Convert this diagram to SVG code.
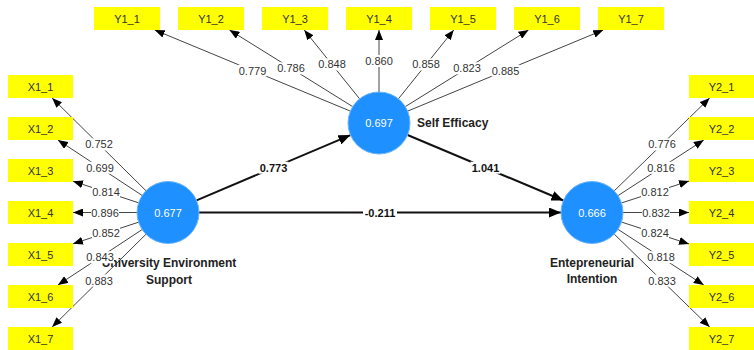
<svg xmlns="http://www.w3.org/2000/svg" width="754" height="350" viewBox="0 0 754 350">
<style>
.box{fill:#ffff00}
.bt{font-family:"Liberation Sans",Arial,sans-serif;font-size:11px;fill:#333;text-anchor:middle;dominant-baseline:central}
.cv{fill:#1e90ff;stroke:#6db5ff;stroke-width:1}
.ct{font-family:"Liberation Sans",Arial,sans-serif;font-size:11px;fill:#fff;text-anchor:middle;dominant-baseline:central}
.nl{font-family:"Liberation Sans",Arial,sans-serif;font-size:12px;font-weight:bold;fill:#222}
.ld{stroke:#444;stroke-width:1;fill:none;marker-end:url(#a)}
.st{stroke:#111;stroke-width:2;fill:none;marker-end:url(#b)}
.lb{fill:#fff}
.lt{font-family:"Liberation Sans",Arial,sans-serif;font-size:11px;fill:#333;text-anchor:middle;dominant-baseline:central}
.pt{font-family:"Liberation Sans",Arial,sans-serif;font-size:11px;font-weight:bold;fill:#111;text-anchor:middle;dominant-baseline:central}
</style>
<defs>
<marker id="a" markerUnits="userSpaceOnUse" markerWidth="10" markerHeight="8" refX="10" refY="4" orient="auto"><path d="M0,0 L10,4 L0,8 z" fill="#000"/></marker>
<marker id="b" markerUnits="userSpaceOnUse" markerWidth="12" markerHeight="10" refX="12" refY="5" orient="auto"><path d="M0,0 L12,5 L0,10 z" fill="#000"/></marker>
</defs>
<rect width="754" height="350" fill="#fff"/>

<g id="connectors">
<line class="ld" x1="145.95" y1="190.71" x2="52.14" y2="98"/>
<line class="ld" x1="142.11" y1="195.44" x2="57.95" y2="140"/>
<line class="ld" x1="138.56" y1="202.8" x2="73" y2="181.2"/>
<line class="ld" x1="137" y1="212.5" x2="73" y2="212.5"/>
<line class="ld" x1="138.56" y1="222.2" x2="73" y2="243.8"/>
<line class="ld" x1="142.11" y1="229.56" x2="57.95" y2="285"/>
<line class="ld" x1="145.95" y1="234.29" x2="52.14" y2="327"/>
<line class="ld" x1="350.36" y1="111.13" x2="154.73" y2="30"/>
<line class="ld" x1="352.68" y1="106.63" x2="229.48" y2="30"/>
<line class="ld" x1="359.58" y1="98.84" x2="304.24" y2="30"/>
<line class="ld" x1="379" y1="92" x2="379" y2="30"/>
<line class="ld" x1="398.42" y1="98.84" x2="453.76" y2="30"/>
<line class="ld" x1="405.32" y1="106.63" x2="528.52" y2="30"/>
<line class="ld" x1="407.64" y1="111.13" x2="603.27" y2="30"/>
<line class="ld" x1="614.22" y1="190.88" x2="709.68" y2="98"/>
<line class="ld" x1="618.01" y1="195.63" x2="703.77" y2="140"/>
<line class="ld" x1="621.49" y1="202.94" x2="689" y2="181.04"/>
<line class="ld" x1="623" y1="212.5" x2="689" y2="212.5"/>
<line class="ld" x1="621.49" y1="222.06" x2="689" y2="243.96"/>
<line class="ld" x1="618.01" y1="229.37" x2="703.77" y2="285"/>
<line class="ld" x1="614.22" y1="234.12" x2="709.68" y2="327"/>
<line class="st" x1="196.54" y1="200.4" x2="350.46" y2="135.1"/>
<line class="st" x1="199" y1="212.5" x2="561" y2="212.5"/>
<line class="st" x1="407.58" y1="135" x2="563.42" y2="200.49"/>
</g>

<g id="X1_1"><rect class="box" x="8" y="75" width="65" height="23"/><text class="bt" x="40.5" y="86.5">X1_1</text></g>
<g id="X1_2"><rect class="box" x="8" y="117" width="65" height="23"/><text class="bt" x="40.5" y="128.5">X1_2</text></g>
<g id="X1_3"><rect class="box" x="8" y="159" width="65" height="23"/><text class="bt" x="40.5" y="170.5">X1_3</text></g>
<g id="X1_4"><rect class="box" x="8" y="201" width="65" height="23"/><text class="bt" x="40.5" y="212.5">X1_4</text></g>
<g id="X1_5"><rect class="box" x="8" y="243" width="65" height="23"/><text class="bt" x="40.5" y="254.5">X1_5</text></g>
<g id="X1_6"><rect class="box" x="8" y="285" width="65" height="23"/><text class="bt" x="40.5" y="296.5">X1_6</text></g>
<g id="X1_7"><rect class="box" x="8" y="327" width="65" height="23"/><text class="bt" x="40.5" y="338.5">X1_7</text></g>

<g id="Y1_1"><rect class="box" x="94" y="7" width="66" height="23"/><text class="bt" x="127" y="18.5">Y1_1</text></g>
<g id="Y1_2"><rect class="box" x="178" y="7" width="66" height="23"/><text class="bt" x="211" y="18.5">Y1_2</text></g>
<g id="Y1_3"><rect class="box" x="262" y="7" width="66" height="23"/><text class="bt" x="295" y="18.5">Y1_3</text></g>
<g id="Y1_4"><rect class="box" x="346" y="7" width="66" height="23"/><text class="bt" x="379" y="18.5">Y1_4</text></g>
<g id="Y1_5"><rect class="box" x="430" y="7" width="66" height="23"/><text class="bt" x="463" y="18.5">Y1_5</text></g>
<g id="Y1_6"><rect class="box" x="514" y="7" width="66" height="23"/><text class="bt" x="547" y="18.5">Y1_6</text></g>
<g id="Y1_7"><rect class="box" x="598" y="7" width="66" height="23"/><text class="bt" x="631" y="18.5">Y1_7</text></g>

<g id="Y2_1"><rect class="box" x="689" y="75" width="65" height="23"/><text class="bt" x="721.5" y="86.5">Y2_1</text></g>
<g id="Y2_2"><rect class="box" x="689" y="117" width="65" height="23"/><text class="bt" x="721.5" y="128.5">Y2_2</text></g>
<g id="Y2_3"><rect class="box" x="689" y="159" width="65" height="23"/><text class="bt" x="721.5" y="170.5">Y2_3</text></g>
<g id="Y2_4"><rect class="box" x="689" y="201" width="65" height="23"/><text class="bt" x="721.5" y="212.5">Y2_4</text></g>
<g id="Y2_5"><rect class="box" x="689" y="243" width="65" height="23"/><text class="bt" x="721.5" y="254.5">Y2_5</text></g>
<g id="Y2_6"><rect class="box" x="689" y="285" width="65" height="23"/><text class="bt" x="721.5" y="296.5">Y2_6</text></g>
<g id="Y2_7"><rect class="box" x="689" y="327" width="65" height="23"/><text class="bt" x="721.5" y="338.5">Y2_7</text></g>

<g id="UES"><circle class="cv" cx="168" cy="212.5" r="31"/><text class="ct" x="168" y="212.5">0.677</text>
<text class="nl" x="169" y="267" text-anchor="middle">University Environment</text><text class="nl" x="169" y="284" text-anchor="middle">Support</text></g>
<g id="SE"><circle class="cv" cx="379" cy="123" r="31"/><text class="ct" x="379" y="123">0.697</text>
<text class="nl" x="417" y="127">Self Efficacy</text></g>
<g id="EI"><circle class="cv" cx="592" cy="212.5" r="31"/><text class="ct" x="592" y="212.5">0.666</text>
<text class="nl" x="592" y="267" text-anchor="middle">Entepreneurial</text><text class="nl" x="592" y="283" text-anchor="middle">Intention</text></g>

<g id="labels">
<rect class="lb" x="85" y="138.4" width="28" height="12"/><text class="lt" x="99" y="144.4">0.752</text>
<rect class="lb" x="86" y="161.7" width="28" height="12"/><text class="lt" x="100" y="167.7">0.699</text>
<rect class="lb" x="92" y="186" width="28" height="12"/><text class="lt" x="106" y="192">0.814</text>
<rect class="lb" x="91" y="206.5" width="28" height="12"/><text class="lt" x="105" y="212.5">0.896</text>
<rect class="lb" x="92" y="227" width="28" height="12"/><text class="lt" x="106" y="233">0.852</text>
<rect class="lb" x="86" y="251.3" width="28" height="12"/><text class="lt" x="100" y="257.3">0.843</text>
<rect class="lb" x="85" y="274.6" width="28" height="12"/><text class="lt" x="99" y="280.6">0.883</text>
<rect class="lb" x="238.5" y="64.6" width="28" height="12"/><text class="lt" x="252.5" y="70.6">0.779</text>
<rect class="lb" x="277" y="62.3" width="28" height="12"/><text class="lt" x="291" y="68.3">0.786</text>
<rect class="lb" x="318" y="58.4" width="28" height="12"/><text class="lt" x="332" y="64.4">0.848</text>
<rect class="lb" x="365" y="55" width="28" height="12"/><text class="lt" x="379" y="61">0.860</text>
<rect class="lb" x="412" y="58.4" width="28" height="12"/><text class="lt" x="426" y="64.4">0.858</text>
<rect class="lb" x="453" y="62.3" width="28" height="12"/><text class="lt" x="467" y="68.3">0.823</text>
<rect class="lb" x="491.5" y="64.6" width="28" height="12"/><text class="lt" x="505.5" y="70.6">0.885</text>
<rect class="lb" x="648" y="138.4" width="28" height="12"/><text class="lt" x="662" y="144.4">0.776</text>
<rect class="lb" x="647" y="161.8" width="28" height="12"/><text class="lt" x="661" y="167.8">0.816</text>
<rect class="lb" x="641" y="186" width="28" height="12"/><text class="lt" x="655" y="192">0.812</text>
<rect class="lb" x="642" y="206.5" width="28" height="12"/><text class="lt" x="656" y="212.5">0.832</text>
<rect class="lb" x="641" y="227" width="28" height="12"/><text class="lt" x="655" y="233">0.824</text>
<rect class="lb" x="647" y="251.2" width="28" height="12"/><text class="lt" x="661" y="257.2">0.818</text>
<rect class="lb" x="648" y="274.6" width="28" height="12"/><text class="lt" x="662" y="280.6">0.833</text>
<rect class="lb" x="258.5" y="161.7" width="30" height="12"/><text class="pt" x="273.5" y="167.7">0.773</text>
<rect class="lb" x="363" y="206.5" width="34" height="12"/><text class="pt" x="380" y="212.5">-0.211</text>
<rect class="lb" x="470.5" y="161.7" width="30" height="12"/><text class="pt" x="485.5" y="167.7">1.041</text>
</g>
</svg>
